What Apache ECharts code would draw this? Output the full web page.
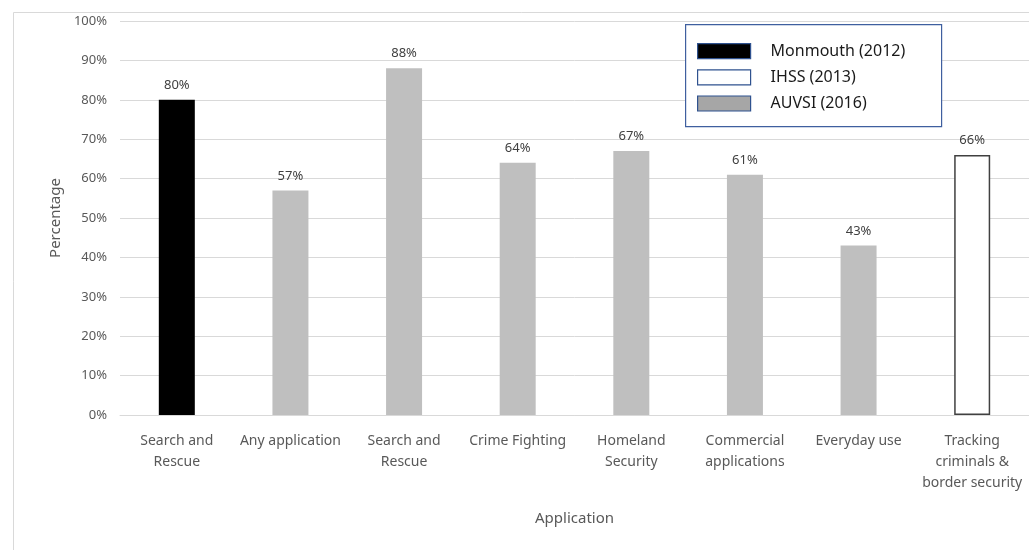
<!DOCTYPE html>
<html>
<head>
<meta charset="utf-8">
<script src="https://cdn.jsdelivr.net/npm/echarts@6/dist/echarts.min.js"></script>
<style>html,body{margin:0;padding:0;background:#fff}#c{width:1029px;height:550px}</style>
</head>
<body>
<div id="c"></div>
<script>
var categories = ['Search and\nRescue', 'Any application', 'Search and\nRescue', 'Crime Fighting', 'Homeland\nSecurity', 'Commercial\napplications', 'Everyday use', 'Tracking\ncriminals &\nborder security'];
var monmouth = [80, '-', '-', '-', '-', '-', '-', '-'];
var ihss = ['-', '-', '-', '-', '-', '-', '-', 66];
var auvsi = ['-', 57, 88, 64, 67, 61, 43, '-'];
var seriesNames = ['Monmouth (2012)', 'IHSS (2013)', 'AUVSI (2016)'];

var font = "'Noto Sans', 'Open Sans', sans-serif";
var chart = echarts.init(document.getElementById('c'));
var lbl = {show: true, position: 'top', distance: 8, formatter: '{c}%', color: '#404040', fontSize: 13, fontFamily: font};
chart.setOption({
  animation: false,
  backgroundColor: '#fff',
  graphic: [
    {type: 'rect', left: 11, top: 10, shape: {width: 1040, height: 560}, style: {fill: 'none', stroke: '#d9d9d9', lineWidth: 1}, z: -1},
    {type: 'rect', left: 685, top: 24, shape: {width: 256, height: 102}, style: {fill: '#fff', stroke: '#3f5f9f', lineWidth: 1.2}, z: 5}
  ],
  legend: {
    orient: 'vertical', left: 697, top: 43, padding: 0, itemWidth: 53, itemHeight: 15, itemGap: 10, z: 10,
    textStyle: {fontFamily: font, fontSize: 16, color: '#1a1a1a', padding: [0, 0, 0, 15]},
    data: [
      {name: seriesNames[0], icon: 'rect', itemStyle: {color: '#000', borderColor: '#2f528f', borderWidth: 1.2}},
      {name: seriesNames[1], icon: 'rect', itemStyle: {color: '#fff', borderColor: '#2f528f', borderWidth: 1.2}},
      {name: seriesNames[2], icon: 'rect', itemStyle: {color: '#a6a6a6', borderColor: '#2f528f', borderWidth: 1.2}}
    ]
  },
  grid: {left: 120, right: -4, top: 21, bottom: 135, containLabel: false},
  xAxis: {
    type: 'category', data: categories,
    name: 'Application', nameLocation: 'middle', nameGap: 96,
    nameTextStyle: {fontFamily: font, fontSize: 15, color: '#595959'},
    axisLine: {lineStyle: {color: '#d9d9d9'}}, axisTick: {show: false},
    axisLabel: {interval: 0, margin: 16, lineHeight: 21, fontFamily: font, fontSize: 14, color: '#595959'}
  },
  yAxis: {
    type: 'value', min: 0, max: 100, interval: 10,
    name: 'Percentage', nameLocation: 'middle', nameGap: 57, nameRotate: 90,
    nameTextStyle: {fontFamily: font, fontSize: 15, color: '#595959'},
    axisLine: {show: false}, axisTick: {show: false},
    axisLabel: {formatter: '{value}%', margin: 13, fontFamily: font, fontSize: 13, color: '#595959'},
    splitLine: {lineStyle: {color: '#d9d9d9'}}
  },
  series: [
    {name: seriesNames[0], type: 'bar', stack: 's', data: monmouth, barWidth: 36, itemStyle: {color: '#000'}, label: lbl},
    {name: seriesNames[1], type: 'bar', stack: 's', data: ihss, barWidth: 36, itemStyle: {color: '#fff', borderColor: '#404040', borderWidth: 1.5}, label: lbl},
    {name: seriesNames[2], type: 'bar', stack: 's', data: auvsi, barWidth: 36, itemStyle: {color: '#bfbfbf'}, label: lbl}
  ]
});
</script>
</body>
</html>
